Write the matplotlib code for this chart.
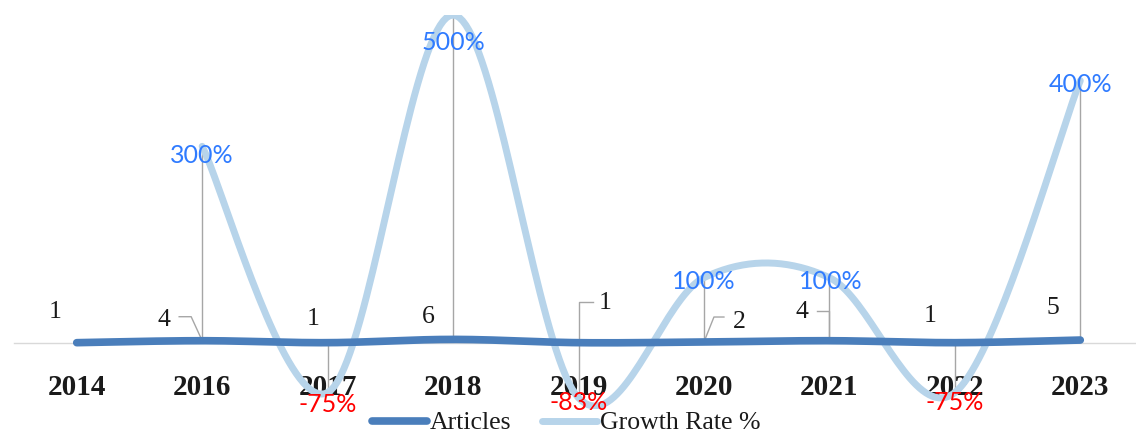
import numpy as np
import matplotlib
matplotlib.use("Agg")
import matplotlib.pyplot as plt
import matplotlib.transforms as mtransforms

years = ["2014", "2016", "2017", "2018", "2019", "2020", "2021", "2022", "2023"]
articles = [1, 4, 1, 6, 1, 2, 4, 1, 5]
growth = [None, 300, -75, 500, -83, 100, 100, -75, 400]
growth_labels = [None, "300%", "-75%", "500%", "-83%", "100%", "100%", "-75%", "400%"]

ART_COLOR = "#4A7EBB"
GR_COLOR = "#B7D4EA"
HL_COLOR = "#A6A6A6"


def smooth(xs, ys, n=40):
    """Catmull-Rom style smoothing (like Excel smoothed lines)."""
    xs = np.asarray(xs, float)
    ys = np.asarray(ys, float)
    P = np.column_stack([xs, ys])
    out = []
    for i in range(len(P) - 1):
        p0 = P[i - 1] if i > 0 else P[i]
        p1 = P[i]
        p2 = P[i + 1]
        p3 = P[i + 2] if i + 2 < len(P) else P[i + 1]
        c1 = p1 + (p2 - p0) / 6.0
        c2 = p2 - (p3 - p1) / 6.0
        t = np.linspace(0, 1, n)[:, None]
        seg = ((1 - t) ** 3) * p1 + 3 * ((1 - t) ** 2) * t * c1 + 3 * (1 - t) * t ** 2 * c2 + t ** 3 * p2
        out.append(seg if i == 0 else seg[1:])
    s = np.vstack(out)
    return s[:, 0], s[:, 1]


W, H = 1136, 434
fig = plt.figure(figsize=(W / 100, H / 100), dpi=100)
left_px, right_px, top_px, bot_px = 14, 1143, 15, 409
ax = fig.add_axes([left_px / W, 1 - bot_px / H, (right_px - left_px) / W, (bot_px - top_px) / H])
ax.set_xlim(-0.5, len(years) - 0.5)
ax.set_ylim(-100, 500)

x = np.arange(len(years))

# high-low lines
for i in range(len(years)):
    if growth[i] is not None:
        lo, hi = sorted([articles[i], growth[i]])
        ax.vlines(x[i], lo, hi, color=HL_COLOR, lw=1, zorder=1)

# lines
ax_x, ax_y = smooth(x, articles)
ax.plot(ax_x, ax_y, color=ART_COLOR, lw=5.5, solid_capstyle="round", zorder=3, label="Articles")
gi = [i for i in range(len(years)) if growth[i] is not None]
gx, gy = smooth(x[gi], [growth[i] for i in gi])
ax.plot(gx, gy, color=GR_COLOR, lw=5, solid_capstyle="round", zorder=2, label="Growth Rate %")

# axes styling
for s in ["top", "right", "left"]:
    ax.spines[s].set_visible(False)
ax.spines["bottom"].set_position(("data", 0))
ax.spines["bottom"].set_color("#D9D9D9")
ax.spines["bottom"].set_linewidth(1)
ax.set_yticks([])
ax.set_xticks(x)
ax.set_xticklabels(years, fontfamily="Liberation Serif", fontweight="bold", fontsize=21, color="#1a1a1a")
ax.tick_params(axis="x", length=0, pad=22)

# article data labels (pixel offsets) and leader lines
art_off = [(-22, 31), (-38, 21), (-15, 24), (-25, 22), (27, 40), (35, 20), (-27, 29), (-25, 27), (-27, 32)]
leaders = {
    1: [(0, 0), (-11, 24), (-23, 24)],
    4: [(0, 0), (0, 41), (14, 41)],
    5: [(0, 0), (10, 25), (20, 25)],
    6: [(0, 0), (0, 30), (-12, 30)],
}
for i, v in enumerate(articles):
    ax.annotate(str(v), (x[i], v), xytext=art_off[i], textcoords="offset pixels",
                ha="center", va="center", fontfamily="Liberation Serif", fontsize=18.5,
                color="#1a1a1a", zorder=5)
    if i in leaders:
        tr = mtransforms.Affine2D() + mtransforms.ScaledTranslation(x[i], v, ax.transData)
        pts = np.array(leaders[i])
        ax.plot(pts[:, 0], pts[:, 1], color=HL_COLOR, lw=1, transform=tr, zorder=1)

# growth data labels
gr_off = [None, (0, -9), (0, -12), (0, -28), (0, -5), (0, -4), (1, -4), (0, -10), (0, -4)]
for i, v in enumerate(growth):
    if v is None:
        continue
    ax.annotate(growth_labels[i], (x[i], v), xytext=gr_off[i], textcoords="offset pixels",
                ha="center", va="center", fontfamily="Lato", fontsize=18,
                color="#2F7BFF" if v >= 0 else "#FF0000", zorder=6, annotation_clip=False)

leg = fig.legend(loc="center", bbox_to_anchor=(566 / W, 1 - 423 / H), ncol=2, frameon=False,
                 handlelength=2.15, handletextpad=0.1, columnspacing=1.2,
                 prop={"family": "Liberation Serif", "size": 18.5})
for t in leg.get_texts():
    t.set_color("#1a1a1a")

fig.savefig("out.png", dpi=100)
